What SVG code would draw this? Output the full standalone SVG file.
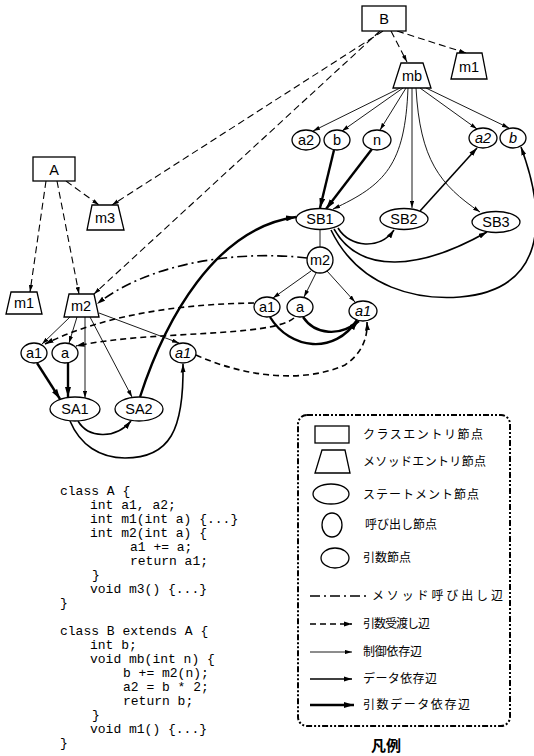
<svg xmlns="http://www.w3.org/2000/svg" width="534" height="756" viewBox="0 0 534 756">
<style>
  .cls {fill:none;stroke:#000;stroke-width:1.1;stroke-dasharray:7 4}
  .ctl {fill:none;stroke:#000;stroke-width:0.9}
  .dat {fill:none;stroke:#000;stroke-width:1.6}
  .arg {fill:none;stroke:#000;stroke-width:2.4}
  .par {fill:none;stroke:#000;stroke-width:1.6;stroke-dasharray:6 4}
  .call {fill:none;stroke:#000;stroke-width:1.6;stroke-dasharray:10 4 2 4}
  .node {fill:#fff;stroke:#000;stroke-width:1.3}
  .lbl {font-family:"Liberation Sans",Arial,sans-serif;font-size:14.5px;text-anchor:middle;fill:#000}
  .it {font-style:italic}
  .code {font-family:"Liberation Mono","Courier New",monospace;font-size:13px;fill:#000;white-space:pre}
  .jp {font-family:"Noto Sans CJK JP",sans-serif;font-size:12px;fill:#000}
  .frame {fill:none;stroke:#000;stroke-width:2;stroke-dasharray:6 2 2 2 2 2}
</style>
<defs>
  <marker id="ms" viewBox="0 0 10 6" refX="10" refY="3" markerWidth="7" markerHeight="4.5" markerUnits="userSpaceOnUse" orient="auto"><path d="M0,0 L10,3 L0,6 z"/></marker>
  <marker id="mm" viewBox="0 0 10 6" refX="10" refY="3" markerWidth="8.5" markerHeight="5.5" markerUnits="userSpaceOnUse" orient="auto"><path d="M0,0 L10,3 L0,6 z"/></marker>
  <marker id="ml" viewBox="0 0 10 6" refX="10" refY="3" markerWidth="10" markerHeight="6.5" markerUnits="userSpaceOnUse" orient="auto"><path d="M0,0 L10,3 L0,6 z"/></marker>
</defs>

<g id="connectors">
  <!-- class membership -->
  <path class="cls" marker-end="url(#ms)" d="M391,31 L407,62"/>
  <path class="cls" marker-end="url(#ms)" d="M397,31 L466,53"/>
  <path class="cls" marker-end="url(#ms)" d="M383,31 L112,205"/>
  <path class="cls" marker-end="url(#ms)" d="M380,31 L94,294"/>
  <path class="cls" marker-end="url(#ms)" d="M46,181 L30,292"/>
  <path class="cls" marker-end="url(#ms)" d="M57,181 L79,294"/>
  <path class="cls" marker-end="url(#ms)" d="M66,181 L99,205"/>

  <!-- control dependences -->
  <path class="ctl" marker-end="url(#ms)" d="M70,317 L42,344"/>
  <path class="ctl" marker-end="url(#ms)" d="M77,317 L69,343"/>
  <path class="ctl" marker-end="url(#ms)" d="M85,317 L85,398"/>
  <path class="ctl" marker-end="url(#ms)" d="M90,317 L132,397"/>
  <path class="ctl" marker-end="url(#ms)" d="M99,313 L179,343"/>
  <path class="ctl" marker-end="url(#ms)" d="M400,88 L313,131"/>
  <path class="ctl" marker-end="url(#ms)" d="M403,88 L342,131"/>
  <path class="ctl" marker-end="url(#ms)" d="M406,88 L380,130"/>
  <path class="ctl" marker-end="url(#ms)" d="M408,88 C405,165 385,185 333,209"/>
  <path class="ctl" marker-end="url(#ms)" d="M412,88 L412,208"/>
  <path class="ctl" marker-end="url(#ms)" d="M416,88 C420,160 440,185 480,212"/>
  <path class="ctl" marker-end="url(#ms)" d="M420,88 L477,129"/>
  <path class="ctl" marker-end="url(#ms)" d="M426,88 L509,128"/>
  <path class="ctl" d="M320,229 L320,247"/>
  <path class="ctl" marker-end="url(#ms)" d="M311,271 L273,298"/>
  <path class="ctl" marker-end="url(#ms)" d="M316,273 L304,297"/>
  <path class="ctl" marker-end="url(#ms)" d="M327,271 L355,302"/>

  <!-- data dependences -->
  <path class="dat" marker-end="url(#mm)" d="M338,228 C350,248 380,250 394,230"/>
  <path class="dat" marker-end="url(#mm)" d="M334,229 C360,275 420,270 487,232"/>
  <path class="dat" marker-end="url(#mm)" d="M331,230 C360,290 420,300 460,297 C545,290 548,220 521,147"/>
  <path class="dat" marker-end="url(#mm)" d="M420,211 L477,148"/>
  <path class="dat" marker-end="url(#mm)" d="M78,421 C88,438 115,440 131,421"/>
  <path class="dat" marker-end="url(#mm)" d="M70,421 C80,445 100,458 125,458 C170,458 184,430 183,364"/>

  <!-- parameter data dependences -->
  <path class="arg" marker-end="url(#ml)" d="M334,150 L320,208"/>
  <path class="arg" marker-end="url(#ml)" d="M372,149 L326,209"/>
  <path class="arg" marker-end="url(#ml)" d="M140,397 C165,320 215,228 296,217"/>
  <path class="arg" marker-end="url(#ml)" d="M37,363 L60,399"/>
  <path class="arg" marker-end="url(#ml)" d="M68,363 L68,397"/>
  <path class="arg" marker-end="url(#ml)" d="M270,317 C290,350 335,355 357,320"/>
  <path class="arg" marker-end="url(#ml)" d="M303,317 C315,335 340,337 359,321"/>

  <!-- parameter passing -->
  <path class="par" marker-end="url(#mm)" d="M254,303 C190,304 110,312 45,344"/>
  <path class="par" marker-end="url(#mm)" d="M294,318 C270,338 150,330 76,346"/>
  <path class="par" marker-end="url(#mm)" d="M196,355 C240,375 300,385 345,365 C360,355 368,340 367,322"/>

  <!-- method call -->
  <path class="call" marker-end="url(#mm)" d="M307,258 C240,250 150,262 97,304"/>
</g>

<g id="B"><rect class="node" x="362" y="6" width="44" height="25"/><text class="lbl" x="384" y="24">B</text></g>
<g id="mb"><polygon class="node" points="401,63 423,63 431,88 393,88"/><text class="lbl" x="412" y="81">mb</text></g>
<g id="B-m1"><polygon class="node" points="457,53 482,53 487,79 451,79"/><text class="lbl" x="469" y="72">m1</text></g>
<g id="A"><rect class="node" x="33" y="157" width="42" height="24"/><text class="lbl" x="54" y="175">A</text></g>
<g id="m3"><polygon class="node" points="92,205 118,205 124,230 87,230"/><text class="lbl" x="105" y="223">m3</text></g>
<g id="A-m1"><polygon class="node" points="11,292 37,292 42,314 6,314"/><text class="lbl" x="24" y="308">m1</text></g>
<g id="A-m2"><polygon class="node" points="69,294 94,294 99,317 64,317"/><text class="lbl" x="81" y="311">m2</text></g>

<g id="mb-a2"><ellipse class="node" cx="306" cy="140" rx="14" ry="10"/><text class="lbl" x="306" y="145">a2</text></g>
<g id="mb-b"><ellipse class="node" cx="337" cy="140" rx="13" ry="10"/><text class="lbl" x="337" y="145">b</text></g>
<g id="mb-n"><ellipse class="node" cx="377" cy="140" rx="14" ry="10"/><text class="lbl" x="377" y="145">n</text></g>
<g id="mb-a2-out"><ellipse class="node" cx="483" cy="138" rx="14" ry="10"/><text class="lbl it" x="483" y="143">a2</text></g>
<g id="mb-b-out"><ellipse class="node" cx="513" cy="138" rx="13" ry="10"/><text class="lbl it" x="513" y="143">b</text></g>

<g id="SB1"><ellipse class="node" cx="320" cy="219" rx="24" ry="10.5"/><text class="lbl" x="320" y="224">SB1</text></g>
<g id="SB2"><ellipse class="node" cx="404" cy="219" rx="24" ry="10.5"/><text class="lbl" x="404" y="224">SB2</text></g>
<g id="SB3"><ellipse class="node" cx="496" cy="222" rx="24" ry="10.5"/><text class="lbl" x="496" y="227">SB3</text></g>
<g id="call-m2"><circle class="node" cx="320" cy="260" r="13"/><text class="lbl" x="320" y="265">m2</text></g>
<g id="call-a1"><ellipse class="node" cx="267" cy="307" rx="13" ry="10"/><text class="lbl" x="267" y="312">a1</text></g>
<g id="call-a"><ellipse class="node" cx="300" cy="307" rx="13" ry="10"/><text class="lbl" x="300" y="312">a</text></g>
<g id="call-a1-out"><ellipse class="node" cx="363" cy="311" rx="14" ry="10"/><text class="lbl it" x="363" y="316">a1</text></g>

<g id="m2-a1"><ellipse class="node" cx="34" cy="353" rx="13" ry="10"/><text class="lbl" x="34" y="358">a1</text></g>
<g id="m2-a"><ellipse class="node" cx="65" cy="353" rx="13" ry="10"/><text class="lbl" x="65" y="358">a</text></g>
<g id="m2-a1-out"><ellipse class="node" cx="183" cy="353" rx="13" ry="10"/><text class="lbl it" x="183" y="358">a1</text></g>
<g id="SA1"><ellipse class="node" cx="75" cy="409" rx="25" ry="12"/><text class="lbl" x="75" y="414">SA1</text></g>
<g id="SA2"><ellipse class="node" cx="139" cy="409" rx="24" ry="12"/><text class="lbl" x="139" y="414">SA2</text></g>

<g id="source">
  <text class="code" x="60" y="495">class A {</text>
  <text class="code" x="90" y="509">int a1, a2;</text>
  <text class="code" x="90" y="523">int m1(int a) {...}</text>
  <text class="code" x="90" y="537">int m2(int a) {</text>
  <text class="code" x="130" y="551">a1 += a;</text>
  <text class="code" x="130" y="565">return a1;</text>
  <text class="code" x="92" y="579">}</text>
  <text class="code" x="90" y="593">void m3() {...}</text>
  <text class="code" x="60" y="607">}</text>
  <text class="code" x="60" y="635">class B extends A {</text>
  <text class="code" x="90" y="649">int b;</text>
  <text class="code" x="90" y="663">void mb(int n) {</text>
  <text class="code" x="123" y="677">b += m2(n);</text>
  <text class="code" x="123" y="691">a2 = b * 2;</text>
  <text class="code" x="123" y="705">return b;</text>
  <text class="code" x="92" y="719">}</text>
  <text class="code" x="90" y="733">void m1() {...}</text>
  <text class="code" x="60" y="747">}</text>
</g>

<g id="legend">
  <rect class="frame" x="298" y="415" width="212" height="311" rx="9"/>
  <rect class="node" x="315" y="426" width="34" height="17"/>
  <text class="jp" x="363" y="439" textLength="120" lengthAdjust="spacing">クラスエントリ節点</text>
  <polygon class="node" points="322,450 345,450 350,473 315,473"/>
  <text class="jp" x="363" y="466" textLength="123" lengthAdjust="spacing">メソッドエントリ節点</text>
  <ellipse class="node" cx="331" cy="494" rx="18" ry="10"/>
  <text class="jp" x="363" y="499" textLength="116" lengthAdjust="spacing">ステートメント節点</text>
  <ellipse class="node" cx="332" cy="525" rx="10" ry="12"/>
  <text class="jp" x="365" y="529" textLength="72" lengthAdjust="spacing">呼び出し節点</text>
  <ellipse class="node" cx="335" cy="558" rx="14" ry="10"/>
  <text class="jp" x="363" y="562" textLength="48" lengthAdjust="spacing">引数節点</text>
  <path class="call" d="M310,596 L368,596"/>
  <text class="jp" x="372" y="600" textLength="131" lengthAdjust="spacing">メソッド呼び出し辺</text>
  <path class="par" marker-end="url(#mm)" d="M310,624 L352,624"/>
  <text class="jp" x="363" y="628" textLength="67" lengthAdjust="spacing">引数受渡し辺</text>
  <path class="ctl" marker-end="url(#ms)" d="M310,652 L352,652"/>
  <text class="jp" x="363" y="656" textLength="59" lengthAdjust="spacing">制御依存辺</text>
  <path class="dat" marker-end="url(#mm)" d="M310,679 L352,679"/>
  <text class="jp" x="363" y="683" textLength="74" lengthAdjust="spacing">データ依存辺</text>
  <path class="arg" marker-end="url(#ml)" d="M310,705 L354,705"/>
  <text class="jp" x="363" y="709" textLength="107" lengthAdjust="spacing">引数データ依存辺</text>
  <text class="jp" x="386" y="751" text-anchor="middle" style="font-size:15px;font-weight:bold">凡例</text>
</g>
</svg>
